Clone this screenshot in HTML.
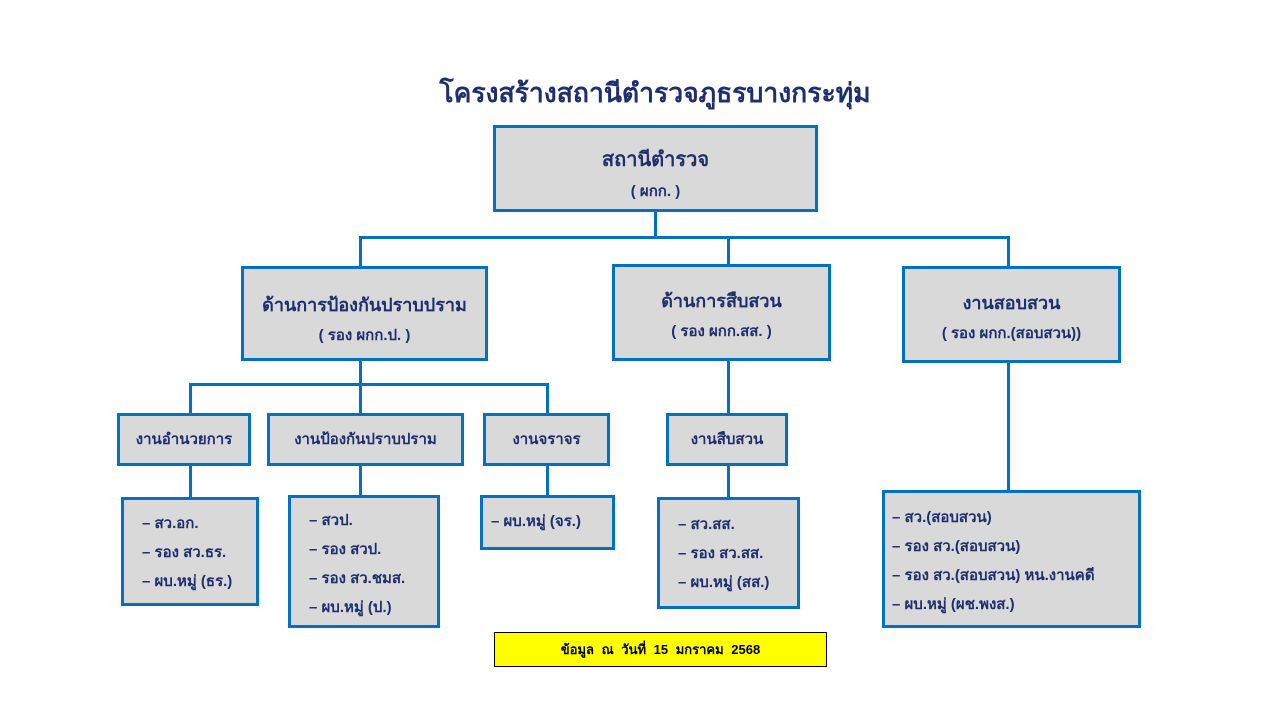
<!DOCTYPE html>
<html><head><meta charset="utf-8">
<style>
body{margin:0;width:1280px;height:720px;background:#fff;position:relative;overflow:hidden;font-family:"Liberation Sans","DejaVu Sans",sans-serif;color:#1f2f6e;font-weight:bold}
.b{position:absolute;box-sizing:border-box;border:3px solid #0070c0;background:#d9d9d9;text-align:center}
.l{position:absolute;background:#0070c0}
.t{position:absolute;white-space:nowrap}
.list{text-align:left;font-size:15px;line-height:29px}
</style></head><body>
<div class="t" style="left:0;width:1310px;top:72px;text-align:center;font-size:26.5px">โครงสร้างสถานีตำรวจภูธรบางกระทุ่ม</div>

<div class="b" style="left:493px;top:125px;width:325px;height:87px"><div style="font-size:20px;margin-top:15px">สถานีตำรวจ</div><div style="font-size:15px;margin-top:4px">( ผกก. )</div></div>

<div class="l" style="left:654px;top:211px;width:3px;height:27px"></div>
<div class="l" style="left:359px;top:236px;width:651px;height:3px"></div>
<div class="l" style="left:359px;top:236px;width:3px;height:31px"></div>
<div class="l" style="left:727px;top:236px;width:3px;height:29px"></div>
<div class="l" style="left:1007px;top:236px;width:3px;height:31px"></div>

<div class="b" style="left:241px;top:266px;width:247px;height:95px"><div style="font-size:18px;margin-top:21px">ด้านการป้องกันปราบปราม</div><div style="font-size:15px;margin-top:4px">( รอง ผกก.ป. )</div></div>
<div class="b" style="left:612px;top:264px;width:219px;height:97px"><div style="font-size:18px;margin-top:19px">ด้านการสืบสวน</div><div style="font-size:15px;margin-top:4px">( รอง ผกก.สส. )</div></div>
<div class="b" style="left:902px;top:266px;width:219px;height:97px"><div style="font-size:18px;margin-top:19px">งานสอบสวน</div><div style="font-size:15px;margin-top:4px">( รอง ผกก.(สอบสวน))</div></div>

<div class="l" style="left:359px;top:360px;width:3px;height:26px"></div>
<div class="l" style="left:189px;top:383px;width:360px;height:3px"></div>
<div class="l" style="left:189px;top:383px;width:3px;height:31px"></div>
<div class="l" style="left:359px;top:383px;width:3px;height:31px"></div>
<div class="l" style="left:546px;top:383px;width:3px;height:31px"></div>
<div class="l" style="left:727px;top:360px;width:3px;height:54px"></div>
<div class="l" style="left:1007px;top:362px;width:3px;height:129px"></div>

<div class="b" style="left:117px;top:413px;width:134px;height:53px;font-size:15px;line-height:47px">งานอำนวยการ</div>
<div class="b" style="left:267px;top:413px;width:197px;height:53px;font-size:15px;line-height:47px">งานป้องกันปราบปราม</div>
<div class="b" style="left:483px;top:413px;width:127px;height:53px;font-size:15px;line-height:47px">งานจราจร</div>
<div class="b" style="left:666px;top:413px;width:122px;height:53px;font-size:15px;line-height:47px">งานสืบสวน</div>

<div class="l" style="left:189px;top:465px;width:3px;height:33px"></div>
<div class="l" style="left:359px;top:465px;width:3px;height:31px"></div>
<div class="l" style="left:546px;top:465px;width:3px;height:31px"></div>
<div class="l" style="left:727px;top:465px;width:3px;height:33px"></div>

<div class="b list" style="left:121px;top:497px;width:138px;height:109px;padding:9px 0 0 18px">– สว.อก.<br>– รอง สว.ธร.<br>– ผบ.หมู่ (ธร.)</div>
<div class="b list" style="left:288px;top:495px;width:152px;height:133px;padding:8px 0 0 18px">– สวป.<br>– รอง สวป.<br>– รอง สว.ชมส.<br>– ผบ.หมู่ (ป.)</div>
<div class="b list" style="left:480px;top:495px;width:135px;height:55px;padding:11px 0 0 8px;line-height:26px">– ผบ.หมู่ (จร.)</div>
<div class="b list" style="left:657px;top:497px;width:143px;height:112px;padding:10px 0 0 18px">– สว.สส.<br>– รอง สว.สส.<br>– ผบ.หมู่ (สส.)</div>
<div class="b list" style="left:882px;top:490px;width:259px;height:138px;padding:10px 0 0 7px">– สว.(สอบสวน)<br>– รอง สว.(สอบสวน)<br>– รอง สว.(สอบสวน) หน.งานคดี<br>– ผบ.หมู่ (ผช.พงส.)</div>

<div style="position:absolute;left:494px;top:632px;width:331px;height:33px;border:1px solid #000;background:#ffff00;color:#000;font-size:13px;text-align:center;line-height:33px;word-spacing:4px">ข้อมูล ณ วันที่ 15 มกราคม 2568</div>
</body></html>
